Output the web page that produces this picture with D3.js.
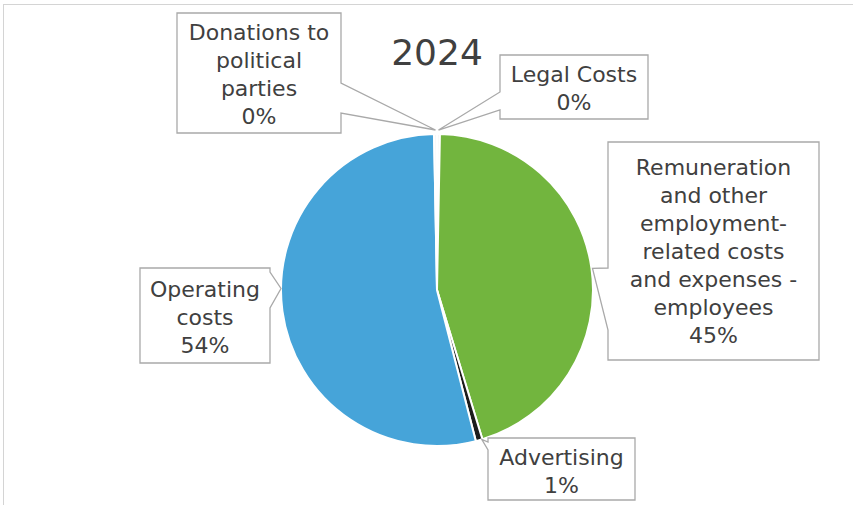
<!DOCTYPE html>
<html>
<head>
<meta charset="utf-8">
<script src="https://cdn.jsdelivr.net/npm/d3@7"></script>
<style>
  body { margin: 0; background: #fff; }
  text { font-family: "DejaVu Sans", Verdana, sans-serif; fill: #404040; }
</style>
</head>
<body>
<div id="canvas"></div>
<script>
// data (clockwise from 12 o'clock)
const categories = ["Legal Costs", "Remuneration", "Advertising", "Operating costs", "Donations"]
const values = [0.3, 45.0, 0.7, 53.7, 0.3]
const pctLabels = ["0%", "45%", "1%", "54%", "0%"]
const labelLines = [
    ["Legal Costs"],
    ["Remuneration", "and other", "employment-", "related costs", "and expenses -", "employees"],
    ["Advertising"],
    ["Operating", "costs"],
    ["Donations to", "political", "parties"]
]
const title = "2024"

const width = 853
const height = 505
const cx = 437, cy = 290, radius = 156

const colors = ["#f7f7f7", "#72b53e", "#1c1c1c", "#46a4d9", "#f7f7f7"]

// callout boxes: rect, pointer side, pointer base on that side, tip adjustment
const callouts = [
    { x0: 500, y0: 55, x1: 648, y1: 119, side: "left", a: 92, b: 110, top: 82, dAng: 0, dr: 4 },
    { x0: 608, y0: 142, x1: 819, y1: 360, side: "left", a: 268, b: 330, top: 175, dAng: 0, dr: 1 },
    { x0: 488, y0: 438, x1: 635, y1: 500, side: "left", a: 442, b: 450, top: 465, dAng: -1, dr: 0 },
    { x0: 140, y0: 268, x1: 270, y1: 363, side: "right", a: 272, b: 308, top: 297, dAng: 8.3, dr: 0 },
    { x0: 177, y0: 13, x1: 341, y1: 133, side: "right", a: 83, b: 113, top: 40, dAng: 0, dr: 4 }
]
const lineH = 28

const svg = d3.select("#canvas").append("svg")
    .attr("width", width)
    .attr("height", height)

// outer chart frame
svg.append("rect")
    .attr("x", 3.5).attr("y", 4.5)
    .attr("width", width + 10).attr("height", height + 10)
    .attr("fill", "#fff")
    .attr("stroke", "#d4d4d4")

const pie = d3.pie().sort(null).value(d => d)
const arcs = pie(values)
const arc = d3.arc().innerRadius(0).outerRadius(radius)

const g = svg.append("g").attr("transform", `translate(${cx}, ${cy})`)
g.selectAll("path")
    .data(arcs)
    .enter()
    .append("path")
    .attr("d", arc)
    .attr("fill", (d, i) => colors[i])
    .attr("stroke", "#fff")
    .attr("stroke-width", 2)

svg.append("text")
    .attr("x", cx)
    .attr("y", 65)
    .attr("text-anchor", "middle")
    .style("font-size", "36px")
    .text(title)

// callouts
callouts.forEach((c, i) => {
    const a = arcs[i]
    const ang = (a.startAngle + a.endAngle) / 2 + c.dAng * Math.PI / 180
    const r = radius + c.dr
    const tx = cx + r * Math.sin(ang)
    const ty = cy - r * Math.cos(ang)
    let pts
    if (c.side === "right") {
        pts = [[c.x0, c.y0], [c.x1, c.y0], [c.x1, c.a], [tx, ty], [c.x1, c.b], [c.x1, c.y1], [c.x0, c.y1]]
    } else {
        pts = [[c.x0, c.y0], [c.x1, c.y0], [c.x1, c.y1], [c.x0, c.y1], [c.x0, c.b], [tx, ty], [c.x0, c.a]]
    }
    svg.append("path")
        .attr("d", d3.line()(pts) + "Z")
        .attr("fill", "#fff")
        .attr("stroke", "#a9a9a9")
        .attr("stroke-width", 1.3)

    const lines = labelLines[i].concat([pctLabels[i]])
    const t = svg.append("text")
        .attr("text-anchor", "middle")
        .style("font-size", "22px")
    lines.forEach((s, k) => {
        t.append("tspan")
            .attr("x", (c.x0 + c.x1) / 2)
            .attr("y", c.top + k * lineH)
            .text(s)
    })
})
</script>
</body>
</html>
